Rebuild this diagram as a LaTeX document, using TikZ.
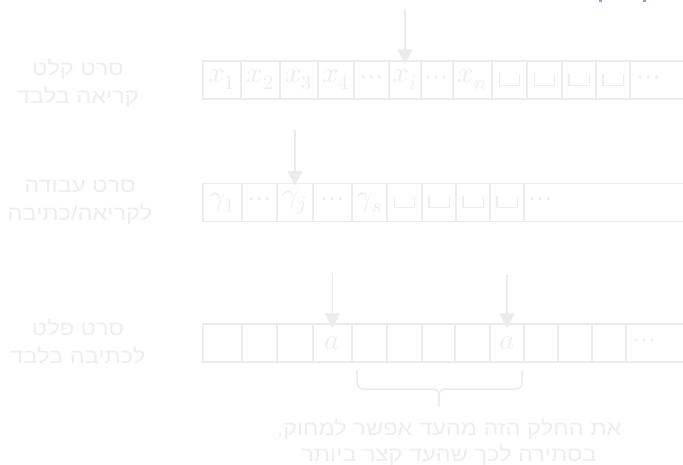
\documentclass[tikz,border=0pt]{standalone}
\usepackage{fontspec}
\usepackage{unicode-math}
\setmainfont{Liberation Sans}
\setmathfont{Latin Modern Math}
\newfontfamily\heb[Script=Hebrew, FakeStretch=1.15]{Liberation Sans}
\TeXXeTstate=1
\usetikzlibrary{arrows.meta}
\definecolor{ln}{RGB}{236,236,236}
\definecolor{tx}{RGB}{238,238,238}
\definecolor{pu}{RGB}{176,140,220}
\newcommand\vsp{\rule{1.3pt}{12pt}\rule{19pt}{1.3pt}\rule{1.3pt}{12pt}}
\newcommand\tcell[5]{\node[cell, minimum width={(#3-#2)*1pt}] (#1) at ({(#2+#3)/2},#4) {#5};}
\begin{document}
\begin{tikzpicture}[x=1pt,y=-1pt,
  cell/.style={draw=ln, line width=1.2pt, minimum height=38pt, inner sep=0pt, text=tx, font=\fontsize{29}{30}\selectfont},
  arr/.style={draw=ln, line width=1.3pt, -{Triangle[length=15pt,width=15pt,fill=ln]}},
  lbl/.style={align=center, text=tx, inner sep=0pt, font=\heb\fontsize{20.5}{28}\selectfont},
  brc/.style={draw=ln, line width=1.5pt, rounded corners=6pt}]
\clip (0,0) rectangle (683,465);
\fill[white] (0,0) rectangle (683,465);
% tape 1
\tcell{t1c1}{203}{241}{80}{$x_1$}
\tcell{t1c2}{241}{280}{80}{$x_2$}
\tcell{t1c3}{280}{318}{80}{$x_3$}
\tcell{t1c4}{318}{354}{80}{$x_4$}
\tcell{t1c5}{354}{389}{80}{$\cdots$}
\tcell{t1c6}{389}{421}{80}{$x_i$}
\tcell{t1c7}{421}{453}{80}{$\cdots$}
\tcell{t1c8}{453}{492}{80}{$x_n$}
\tcell{t1c9}{492}{527}{80}{\vsp}
\tcell{t1c10}{527}{562}{80}{\vsp}
\tcell{t1c11}{562}{596}{80}{\vsp}
\tcell{t1c12}{596}{630}{80}{\vsp}
\tcell{t1c13}{630}{700}{80}{\hspace*{-32pt}$\cdots$}
% tape 2
\tcell{t2c1}{203}{242}{202.5}{$\gamma_1$}
\tcell{t2c2}{242}{277}{202.5}{$\cdots$}
\tcell{t2c3}{277}{313}{202.5}{$\gamma_j$}
\tcell{t2c4}{313}{352}{202.5}{$\cdots$}
\tcell{t2c5}{352}{387}{202.5}{$\gamma_s$}
\tcell{t2c6}{387}{422}{202.5}{\vsp}
\tcell{t2c7}{422}{456}{202.5}{\vsp}
\tcell{t2c8}{456}{490}{202.5}{\vsp}
\tcell{t2c9}{490}{524}{202.5}{\vsp}
\tcell{t2c10}{524}{700}{202.5}{\hspace*{-142pt}$\cdots$}
% tape 3
\tcell{t3c1}{203}{242}{343}{}
\tcell{t3c2}{242}{277}{343}{}
\tcell{t3c3}{277}{313}{343}{}
\tcell{t3c4}{313}{352}{343}{$a$}
\tcell{t3c5}{352}{387}{343}{}
\tcell{t3c6}{387}{422}{343}{}
\tcell{t3c7}{422}{455}{343}{}
\tcell{t3c8}{455}{490}{343}{}
\tcell{t3c9}{490}{524}{343}{$a$}
\tcell{t3c10}{524}{558}{343}{}
\tcell{t3c11}{558}{592}{343}{}
\tcell{t3c12}{592}{626}{343}{}
\tcell{t3c13}{626}{700}{343}{\hspace*{-36pt}$\cdots$}
% arrows
\coordinate (a1s) at (405,9);
\coordinate (a2s) at (295,130);
\coordinate (a3s) at (332.5,275);
\coordinate (a4s) at (507,275);
\draw[arr] (a1s) -- ([yshift=-4pt]t1c6.north);
\draw[arr] (a2s) -- ([yshift=-3pt]t2c3.north);
\draw[arr] (a3s) -- ([yshift=-5pt]t3c4.north);
\draw[arr] (a4s) -- ([yshift=-5pt]t3c9.north);
% brace
\coordinate (bl) at (357,370);
\coordinate (br) at (522,370);
\coordinate (bt) at (439,407);
\draw[brc] (bl) |- (bt |- 0,389) -- (bt);
\draw[brc] (br) |- (bt |- 0,389) -- (bt);
% labels
\node[lbl] (l1) at (78,83) {\beginR סרט קלט\endR\\\beginR קריאה בלבד\endR};
\node[lbl] (l2) at (80,202) {\beginR סרט עבודה\endR\\\beginR לקריאה/כתיבה\endR};
\node[lbl] (l3) at (78,341) {\beginR סרט פלט\endR\\\beginR לכתיבה בלבד\endR};
\node[lbl, font=\heb\fontsize{20.5}{26}\selectfont] (note) at (449,442) {\beginR את החלק הזה מהעד אפשר למחוק,\endR\\\beginR בסתירה לכך שהעד קצר ביותר\endR};
% cut-off purple marks at top
\fill[pu] (599,0) rectangle (602,2);
\fill[pu] (643,0) rectangle (646,2);
\end{tikzpicture}
\end{document}
